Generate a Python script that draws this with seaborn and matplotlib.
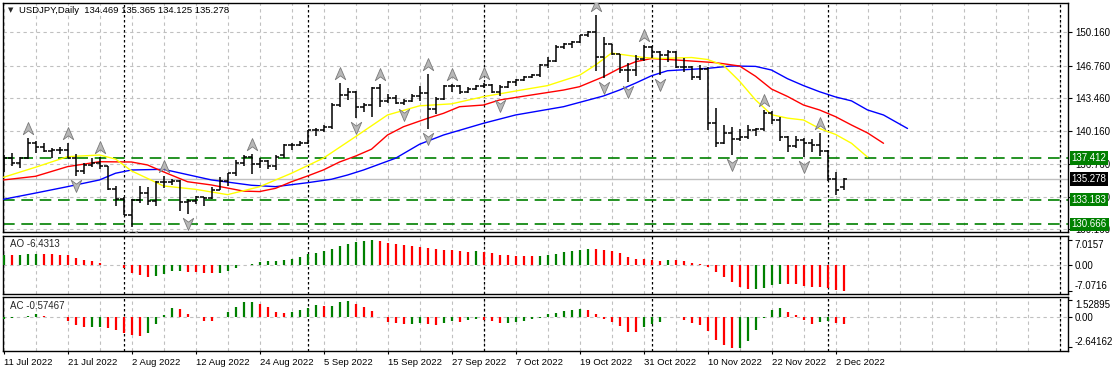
import matplotlib
matplotlib.use("Agg")
import matplotlib.pyplot as plt
import matplotlib.transforms as mtransforms
from matplotlib.path import Path
import numpy as np
import seaborn as sns

sns.set_style("white")
plt.rcParams["font.family"] = ["Liberation Sans", "DejaVu Sans"]

# USDJPY daily bars, 11 Jul 2022 -> 5 Dec 2022
opens = [136.05, 137.41, 136.85, 137.45, 138.95, 138.55, 138.15, 138.20, 138.25, 137.45,
         136.12, 136.65, 136.95, 136.55, 134.25, 133.25, 131.60, 133.15, 133.85, 133.00,
         135.00, 134.95, 135.05, 132.90, 133.00, 133.45, 133.30, 134.20, 135.10, 135.85,
         136.90, 137.50, 136.75, 137.15, 136.55, 137.70, 138.75, 138.75, 138.95, 140.20,
         140.20, 140.55, 142.75, 143.75, 144.10, 142.55, 142.80, 144.55, 143.20, 143.50,
         142.95, 143.20, 143.70, 144.05, 142.40, 143.35, 144.75, 144.75, 144.15, 144.45,
         144.75, 144.85, 144.10, 144.60, 145.10, 145.30, 145.65, 145.80, 146.85, 147.20,
         148.70, 148.95, 149.20, 149.85, 150.15, 147.65, 148.95, 147.95, 146.35, 146.30,
         147.50, 148.70, 148.20, 147.90, 148.20, 146.60, 146.60, 145.65, 146.40, 141.00,
         138.90, 139.90, 139.30, 139.50, 140.20, 140.35, 142.00, 141.25, 139.50, 138.60,
         139.20, 138.95, 138.70, 138.10, 135.30, 134.469]
highs = [137.75, 137.87, 137.55, 139.40, 139.10, 138.90, 138.40, 138.50, 138.88, 137.85,
         136.90, 137.45, 137.47, 136.60, 134.60, 133.40, 133.20, 134.55, 134.50, 135.10,
         135.55, 135.30, 135.20, 133.20, 133.55, 133.50, 134.50, 135.45, 135.90, 137.20,
         137.70, 137.80, 137.45, 137.20, 137.75, 138.85, 138.95, 139.10, 140.25, 140.40,
         140.80, 143.00, 145.00, 144.50, 144.20, 143.00, 144.60, 144.95, 143.90, 143.75,
         143.40, 143.90, 144.70, 145.95, 143.60, 144.80, 144.95, 144.85, 144.60, 144.85,
         145.05, 144.95, 144.85, 145.20, 145.45, 145.75, 145.90, 146.90, 147.65, 148.85,
         149.10, 149.30, 149.90, 150.30, 151.95, 149.70, 149.00, 148.00, 147.00, 147.85,
         148.90, 148.75, 148.30, 148.40, 148.30, 147.55, 146.70, 146.80, 146.60, 142.50,
         140.80, 140.60, 140.30, 140.75, 140.45, 142.25, 142.15, 141.60, 139.60, 139.60,
         139.40, 139.30, 139.90, 138.20, 136.00, 135.365]
lows = [135.98, 136.55, 136.40, 137.30, 137.95, 137.98, 137.45, 137.80, 137.40, 135.57,
        135.80, 136.45, 136.30, 134.20, 132.50, 131.60, 130.40, 132.85, 132.60, 132.50,
        134.40, 134.70, 132.05, 131.75, 132.70, 132.55, 133.20, 134.15, 134.60, 135.60,
        136.60, 135.80, 136.40, 136.25, 136.20, 137.45, 138.20, 138.60, 138.80, 139.65,
        140.00, 140.30, 142.60, 143.30, 141.50, 142.10, 141.60, 142.55, 143.00, 142.90,
        142.75, 143.05, 143.20, 140.35, 141.90, 143.30, 144.15, 143.90, 144.05, 144.30,
        144.50, 143.95, 143.65, 144.50, 144.70, 145.25, 145.50, 145.60, 146.50, 147.10,
        148.45, 148.55, 149.10, 149.70, 146.20, 145.50, 147.90, 146.00, 145.10, 145.70,
        147.20, 147.60, 145.85, 147.10, 146.55, 146.10, 145.30, 145.30, 140.20, 138.50,
        138.80, 137.70, 139.10, 139.30, 139.60, 140.10, 140.90, 139.15, 138.05, 138.45,
        137.50, 138.00, 137.60, 135.10, 133.65, 134.125]
closes = [137.41, 136.85, 137.45, 138.95, 138.55, 138.15, 138.20, 138.25, 137.45, 136.12,
          136.65, 136.95, 136.55, 134.25, 133.25, 131.60, 133.15, 133.85, 133.00, 135.00,
          134.95, 135.05, 132.90, 133.00, 133.45, 133.30, 134.20, 135.10, 135.85, 136.90,
          137.50, 136.75, 137.15, 136.55, 137.50, 138.75, 138.75, 138.95, 140.20, 140.20,
          140.55, 142.75, 143.75, 144.10, 142.55, 142.80, 144.55, 143.20, 143.50, 142.95,
          143.20, 143.70, 144.05, 142.40, 143.35, 144.75, 144.75, 144.15, 144.45, 144.75,
          144.85, 144.10, 144.60, 145.10, 145.30, 145.65, 145.80, 146.85, 147.20, 148.70,
          148.95, 149.20, 149.85, 150.15, 147.65, 148.95, 147.95, 146.35, 146.30, 147.50,
          148.70, 148.20, 147.90, 148.20, 146.60, 146.60, 145.65, 146.40, 141.00, 138.90,
          139.90, 139.30, 139.50, 140.20, 140.35, 142.00, 141.25, 139.50, 138.60, 139.20,
          138.95, 138.70, 138.10, 135.30, 134.20, 135.278]

date_bars = [0, 8, 16, 24, 32, 40, 48, 56, 64, 72, 80, 88, 96, 104]
date_labels = ["11 Jul 2022", "21 Jul 2022", "2 Aug 2022", "12 Aug 2022", "24 Aug 2022",
               "5 Sep 2022", "15 Sep 2022", "27 Sep 2022", "7 Oct 2022", "19 Oct 2022",
               "31 Oct 2022", "10 Nov 2022", "22 Nov 2022", "2 Dec 2022"]
period_seps = [15, 38, 60, 81, 103, 132]

# Alligator lines (jaw / teeth / lips)
jaw_bar = [0, 4, 8, 12, 14, 16, 20, 22, 26, 31, 34, 38, 41, 43, 45, 49, 52, 55, 60, 64, 70,
           75, 77, 79, 81, 83, 88, 91, 94, 96, 98, 100, 102, 104, 106, 108, 110, 113]
jaw_val = [133.22, 133.85, 134.50, 135.18, 135.86, 136.19, 136.26, 135.90, 135.18, 134.64,
           134.50, 134.90, 135.25, 135.68, 136.19, 137.38, 138.80, 139.74, 140.93, 141.77,
           142.61, 143.70, 144.30, 145.00, 145.75, 146.26, 146.50, 146.74, 146.70, 146.33,
           145.45, 144.75, 144.13, 143.60, 143.20, 142.28, 141.77, 140.40]
teeth_bar = [0, 4, 8, 12, 16, 18, 20, 23, 26, 30, 32, 34, 36, 38, 40, 42, 44, 46, 48, 50,
             53, 55, 57, 60, 62, 66, 70, 72, 75, 77, 79, 81, 85, 89, 92, 94, 96, 98, 100,
             102, 104, 106, 108, 110]
teeth_val = [135.18, 135.55, 136.53, 137.03, 137.00, 136.70, 136.00, 135.00, 134.67, 134.05,
             134.00, 134.33, 135.00, 135.58, 136.20, 137.00, 137.60, 138.30, 139.74, 140.58,
             141.43, 141.94, 142.61, 142.78, 143.29, 143.80, 144.30, 144.64, 145.65, 146.50,
             147.17, 147.50, 147.30, 147.08, 146.74, 145.70, 144.40, 143.65, 142.78, 142.28,
             141.60, 140.75, 139.95, 138.90]
lips_bar = [0, 4, 8, 12, 14, 16, 20, 24, 28, 32, 36, 40, 44, 48, 52, 56, 60, 64, 68, 72,
            74, 76, 80, 82, 86, 88, 90, 92, 94, 96, 98, 100, 102, 104, 106, 108]
lips_val = [135.45, 136.47, 137.54, 137.71, 137.30, 136.10, 134.57, 134.23, 133.69, 134.49,
            135.86, 137.40, 139.57, 141.77, 142.70, 142.90, 143.63, 144.20, 144.75, 145.80,
            146.84, 148.05, 147.60, 147.50, 147.60, 147.40, 146.80, 145.20, 143.30, 141.80,
            141.45, 141.26, 140.40, 139.80, 138.90, 137.50]

fractal_up = [3, 8, 12, 20, 31, 42, 47, 53, 56, 60, 74, 80, 95, 102]
fractal_dn = [9, 16, 23, 44, 50, 53, 62, 75, 78, 82, 91, 100]

levels = [137.412, 133.183, 130.666]
last_price = 135.278
price_ticks = [130.160, 133.460, 136.760, 140.160, 143.460, 146.760, 150.160]

# Awesome Oscillator / Accelerator Oscillator, one value per bar, g = up bar, r = down bar
ao_vals = [2.95, 2.76, 2.78, 3.04, 3.13, 3.04, 3.00, 2.95, 2.85, 2.00,
           1.50, 1.20, 0.75, 0.15, 0.05, -0.80, -2.20, -2.60, -3.10, -2.85,
           -2.30, -1.65, -1.50, -1.75, -1.95, -2.05, -2.25, -2.00, -1.50, -0.65,
           -0.05, 0.35, 0.90, 1.20, 1.30, 1.55, 1.85, 2.40, 3.10, 3.40,
           4.05, 4.60, 5.35, 5.90, 6.45, 6.80, 7.02, 6.80, 6.25, 5.90,
           5.70, 5.35, 5.15, 4.80, 4.50, 4.25, 4.20, 3.95, 3.70, 3.95,
           3.60, 3.40, 2.85, 2.80, 2.60, 2.55, 2.50, 2.58, 2.95, 3.13,
           3.70, 3.95, 4.30, 4.50, 4.45, 4.25, 3.95, 3.30, 2.20, 1.75,
           1.70, 1.45, 1.20, 1.45, 1.40, 1.20, 0.65, 0.35, -0.45, -1.75,
           -3.20, -4.60, -6.00, -6.55, -6.50, -6.25, -5.45, -5.15, -5.20, -5.25,
           -5.80, -6.00, -6.05, -6.25, -6.80, -7.07]
ao_dir = ("grgggrrrrr" "rrrrrrrrrg" "gggrrrrggg" "gggggggggg" "gggggggrrr"
          "rrrrrrrrrg" "rrrrrrrggg" "ggggrrrrrr" "rrrgrrrrrr" "rrrrggggrr"
          "rrrrrr")
ac_vals = [-0.20, -0.10, 0.02, 0.12, 0.27, 0.09, 0.03, 0.01, -0.32, -0.68,
           -0.91, -0.90, -0.85, -0.97, -1.12, -1.45, -1.62, -1.65, -1.38, -0.60,
           0.15, 0.80, 0.71, 0.27, -0.01, -0.35, -0.35, 0.01, 0.47, 0.91,
           1.33, 1.35, 1.15, 0.88, 0.44, 0.35, 0.44, 0.62, 0.80, 1.06,
           0.97, 1.00, 1.30, 1.42, 1.15, 0.88, 0.53, -0.02, -0.44, -0.50,
           -0.62, -0.60, -0.53, -0.60, -0.68, -0.53, -0.32, -0.44, -0.24, -0.18,
           -0.27, -0.35, -0.53, -0.50, -0.44, -0.32, -0.15, -0.09, 0.24, 0.35,
           0.53, 0.62, 0.74, 0.62, 0.27, -0.18, -0.44, -0.77, -1.33, -1.33,
           -0.88, -0.62, -0.44, 0.01, -0.01, -0.24, -0.53, -0.68, -1.24, -2.04,
           -2.48, -2.74, -2.73, -2.10, -1.15, -0.12, 0.62, 0.80, 0.44, 0.18,
           -0.27, -0.62, -0.44, -0.38, -0.53, -0.62]
ac_dir = ("gggggrrrrr" "rggrrrrrgg" "ggrrrrrggg" "ggrrrrgggg" "rgggrrrrrr"
          "rggrrggrgg" "rrrggggggg" "gggrrrrrrr" "ggggrrrrrr" "rrggggggrr"
          "rrggrr")

n = len(closes)
bars = np.arange(n)

W, H = 1114, 372
fig = plt.figure(figsize=(W / 100, H / 100), dpi=100)


def px_rect(x0, y0, x1, y1):
    return [x0 / W, 1 - y1 / H, (x1 - x0) / W, (y1 - y0) / H]


ax = fig.add_axes(px_rect(2.5, 3, 1068, 232))
ax_ao = fig.add_axes(px_rect(2.5, 236, 1068, 293.5), sharex=ax)
ax_ac = fig.add_axes(px_rect(2.5, 296.5, 1068, 351), sharex=ax)

grid_kw = dict(color="#c0c0c0", lw=0.8, ls=(0, (3, 3)), zorder=0)
sep_kw = dict(color="black", lw=0.9, ls=(0, (2, 2)), zorder=1)

for a in (ax, ax_ao, ax_ac):
    for xb in range(0, 134, 4):
        a.axvline(xb, **grid_kw)
    for xb in period_seps:
        a.axvline(xb, **sep_kw)
    for s in a.spines.values():
        s.set_color("black")
        s.set_linewidth(1.0)
    a.yaxis.tick_right()
    a.tick_params(axis="y", direction="out", length=3, width=0.8, pad=2,
                  labelsize=7, colors="black")
    a.tick_params(axis="x", bottom=False, labelbottom=False)

ax.set_xlim(-0.125, 133.06)

# ---- main price panel
for p in price_ticks:
    ax.axhline(p, **grid_kw)
ax.axhline(last_price, color="#c0c0c0", lw=1.0, zorder=1)
for lv in levels:
    ax.axhline(lv, color="#008000", lw=1.2, ls=(0, (7, 4)), zorder=2)

sns.lineplot(x=jaw_bar, y=jaw_val, ax=ax, color="#0000ff", lw=1.0, estimator=None, sort=False, zorder=3)
sns.lineplot(x=teeth_bar, y=teeth_val, ax=ax, color="#ff0000", lw=1.0, estimator=None, sort=False, zorder=3)
sns.lineplot(x=lips_bar, y=lips_val, ax=ax, color="#ffff00", lw=1.0, estimator=None, sort=False, zorder=3)

ax.vlines(bars, lows, highs, color="black", lw=1.1, zorder=4)
ax.hlines(opens, bars - 0.42, bars, color="black", lw=1.1, zorder=4)
ax.hlines(closes, bars, bars + 0.42, color="black", lw=1.1, zorder=4)

up_arrow = Path([(0, 1), (0.75, -0.75), (0, -0.2), (-0.75, -0.75), (0, 1)],
                [Path.MOVETO, Path.LINETO, Path.LINETO, Path.LINETO, Path.CLOSEPOLY])
dn_arrow = Path([(0, -1), (0.75, 0.75), (0, 0.2), (-0.75, 0.75), (0, -1)],
                [Path.MOVETO, Path.LINETO, Path.LINETO, Path.LINETO, Path.CLOSEPOLY])
up_tr = mtransforms.offset_copy(ax.transData, fig=fig, y=6.5, units="points")
dn_tr = mtransforms.offset_copy(ax.transData, fig=fig, y=-6.5, units="points")
ax.plot(fractal_up, [highs[i] for i in fractal_up], ls="none", marker=up_arrow, ms=10,
        mfc="#b8b8b8", mec="#7a7a7a", mew=0.6, transform=up_tr, zorder=5)
ax.plot(fractal_dn, [lows[i] for i in fractal_dn], ls="none", marker=dn_arrow, ms=10,
        mfc="#b8b8b8", mec="#7a7a7a", mew=0.6, transform=dn_tr, zorder=5)

ax.set_ylim(129.90, 153.13)
ax.set_yticks(price_ticks)
ax.set_yticklabels([f"{p:.3f}" for p in price_ticks])

lab_tr = mtransforms.blended_transform_factory(ax.transAxes, ax.transData)
for lv in levels:
    ax.text(1.0035, lv, f"{lv:.3f}", transform=lab_tr, ha="left", va="center", fontsize=7,
            color="white", zorder=10, clip_on=False,
            bbox=dict(boxstyle="square,pad=0.18", fc="#008000", ec="none"))
ax.text(1.0035, last_price, f"{last_price:.3f}", transform=lab_tr, ha="left", va="center",
        fontsize=7, color="white", zorder=10, clip_on=False,
        bbox=dict(boxstyle="square,pad=0.18", fc="black", ec="none"))

fig.text(8 / W, 1 - 10.5 / H, "\u25bc", fontsize=5, family="DejaVu Sans", va="center", ha="left")
fig.text(19 / W, 1 - 10.5 / H, "USDJPY,Daily  134.469 135.365 134.125 135.278",
         fontsize=6.8, va="center", ha="left", color="black")

# ---- AO panel
col = {"g": "#008000", "r": "#ff0000"}
ax_ao.axhline(0, **grid_kw)
ax_ao.vlines(bars, 0, ao_vals, colors=[col[c] for c in ao_dir], lw=1.6, zorder=3)
ax_ao.set_ylim(-7.79, 8.09)
ax_ao.set_yticks([-7.0716, 0, 7.0157])
ax_ao.set_yticklabels(["-7.0716", "0.00", "7.0157"])
ao_lbls = ax_ao.get_yticklabels()
ao_lbls[0].set_va("bottom")
ao_lbls[2].set_va("top")
ax_ao.text(8 / 1065.5, 0.86, "AO -6.4313", transform=ax_ao.transAxes, fontsize=7, va="center")

# ---- AC panel
ax_ac.axhline(0, **grid_kw)
ax_ac.vlines(bars, 0, ac_vals, colors=[col[c] for c in ac_dir], lw=1.6, zorder=3)
ax_ac.set_ylim(-3.01, 1.81)
ax_ac.set_yticks([-2.64162, 0, 1.52895])
ax_ac.set_yticklabels(["-2.64162", "0.00", "1.52895"])
ac_lbls = ax_ac.get_yticklabels()
ac_lbls[0].set_va("bottom")
ac_lbls[2].set_va("top")
ax_ac.text(8 / 1065.5, 0.82, "AC -0.57467", transform=ax_ac.transAxes, fontsize=7, va="center")

ax_ac.set_xticks(date_bars)
ax_ac.set_xticklabels(date_labels)
ax_ac.tick_params(axis="x", bottom=True, labelbottom=True, length=2, width=0.8, pad=3,
                  labelsize=6.8, colors="black")
for t in ax_ac.get_xticklabels():
    t.set_ha("left")

fig.savefig("out.png", dpi=100)
